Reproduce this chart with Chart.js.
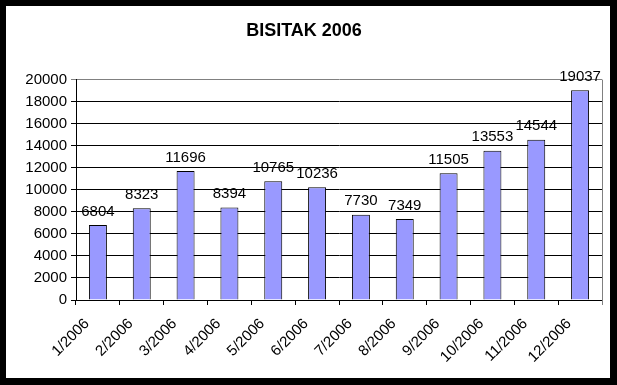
<!DOCTYPE html>
<html>
<head>
<meta charset="utf-8">
<script src="https://cdn.jsdelivr.net/npm/chart.js@4/dist/chart.umd.min.js"></script>
<style>
  html, body { margin: 0; padding: 0; background: #000; }
  #wrap { position: absolute; left: 6px; top: 6px; width: 604px; height: 372px; background: #fff; }
</style>
</head>
<body>
<div id="wrap"><canvas id="chart" width="604" height="372"></canvas></div>
<script>
const months = ["1/2006", "2/2006", "3/2006", "4/2006", "5/2006", "6/2006",
                "7/2006", "8/2006", "9/2006", "10/2006", "11/2006", "12/2006"];
const visitors = [6804, 8323, 11696, 8394, 10765, 10236, 7730, 7349, 11505, 13553, 14544, 19037];
const yTicks = [0, 2000, 4000, 6000, 8000, 10000, 12000, 14000, 16000, 18000, 20000];

const font = "Arial, 'Liberation Sans', sans-serif";

// labels above bars + gray right edge of plot
const extras = {
  id: "extras",
  afterDatasetsDraw(chart) {
    const c = chart.ctx;
    const meta = chart.getDatasetMeta(0);
    c.save();
    c.font = "15px " + font;
    c.fillStyle = "#000";
    c.textAlign = "center";
    c.textBaseline = "bottom";
    meta.data.forEach((bar, i) => {
      c.fillText(String(visitors[i]), bar.x, bar.y - 6);
    });
    const a = chart.chartArea;
    c.strokeStyle = "#808080";
    c.lineWidth = 1;
    c.beginPath();
    c.moveTo(Math.round(a.right) + 0.5, a.top);
    c.lineTo(Math.round(a.right) + 0.5, a.bottom + 5);
    c.stroke();
    c.restore();
  }
};

new Chart(document.getElementById("chart").getContext("2d"), {
  type: "bar",
  data: {
    labels: months,
    datasets: [{
      label: "BISITAK 2006",
      data: visitors,
      backgroundColor: "#9999FF",
      borderColor: "#000",
      borderWidth: 1,
      barPercentage: 0.82,
      categoryPercentage: 0.5
    }]
  },
  options: {
    responsive: false,
    animation: false,
    layout: { padding: { left: 0, right: 8, top: 0, bottom: 0 } },
    plugins: {
      legend: { display: false },
      tooltip: { enabled: false },
      title: {
        display: true,
        text: "BISITAK 2006",
        color: "#000",
        font: { family: font, size: 18, weight: "bold" },
        padding: { top: 14, bottom: 38 }
      }
    },
    scales: {
      x: {
        grid: { drawOnChartArea: false, offset: true, color: "#000", tickLength: 5 },
        border: { color: "#000" },
        ticks: {
          color: "#000",
          font: { family: font, size: 15 },
          minRotation: 45,
          maxRotation: 45,
          padding: 10,
          labelOffset: -11
        },
        afterFit(scale) { scale.height = 78; }
      },
      y: {
        min: 0,
        max: 20000,
        afterBuildTicks(scale) { scale.ticks = yTicks.map(v => ({ value: v })); },
        grid: {
          color: ctx => (ctx.tick && ctx.tick.value === 20000 ? "#808080" : "#000"),
          tickLength: 5
        },
        border: { color: "#000" },
        ticks: {
          color: "#000",
          font: { family: font, size: 15 },
          padding: 4,
          callback: v => String(v)
        },
        afterFit(scale) { scale.width = 70; }
      }
    }
  },
  plugins: [extras]
});
</script>
</body>
</html>
